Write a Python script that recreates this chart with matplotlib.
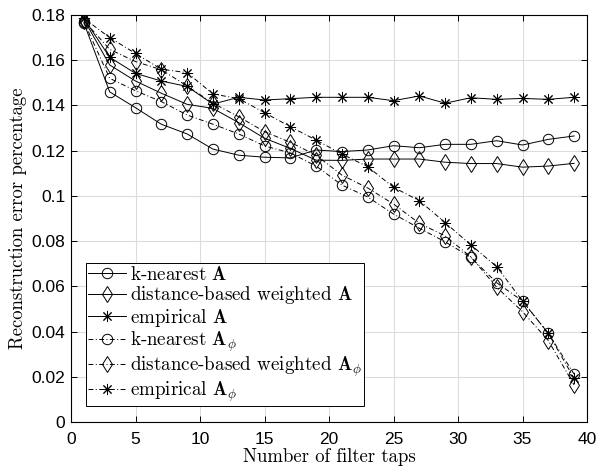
import matplotlib
matplotlib.use('Agg')
import matplotlib.pyplot as plt
from matplotlib.ticker import FuncFormatter

# ---- data ----
taps = [1, 3, 5, 7, 9, 11, 13, 15, 17, 19, 21, 23, 25, 27, 29, 31, 33, 35, 37, 39]
knn_A = [0.1765, 0.146, 0.139, 0.1317, 0.1274, 0.1207, 0.118, 0.1171, 0.1168, 0.1203,
         0.1196, 0.1203, 0.1222, 0.1213, 0.1228, 0.1228, 0.1244, 0.1225, 0.125, 0.1265]
dist_A = [0.178, 0.1579, 0.1508, 0.1454, 0.1405, 0.1387, 0.1324, 0.1255, 0.121, 0.1158,
          0.1157, 0.1163, 0.1163, 0.1163, 0.1149, 0.1143, 0.1143, 0.1127, 0.1132, 0.1144]
emp_A = [0.1785, 0.1613, 0.1542, 0.1508, 0.1484, 0.1406, 0.1436, 0.1424, 0.143, 0.1436,
         0.1436, 0.1436, 0.1421, 0.1442, 0.141, 0.1434, 0.1427, 0.1431, 0.1427, 0.1436]
knn_Aphi = [0.177, 0.152, 0.1465, 0.1417, 0.1358, 0.1317, 0.1274, 0.1221, 0.119, 0.1132,
            0.1048, 0.0995, 0.092, 0.0857, 0.0797, 0.0728, 0.0616, 0.0535, 0.0392, 0.0212]
dist_Aphi = [0.1775, 0.1648, 0.1594, 0.1558, 0.1486, 0.141, 0.135, 0.1284, 0.1237, 0.118,
             0.1092, 0.1035, 0.0964, 0.0879, 0.0823, 0.073, 0.0596, 0.0488, 0.036, 0.0164]
emp_Aphi = [0.1785, 0.170, 0.163, 0.156, 0.1545, 0.1451, 0.143, 0.1368, 0.1306, 0.1247,
            0.1185, 0.1129, 0.1038, 0.0979, 0.0882, 0.0783, 0.0687, 0.0535, 0.0392, 0.0193]

labels = [r'k-nearest $\mathbf{A}$',
          r'distance-based weighted $\mathbf{A}$',
          r'empirical $\mathbf{A}$',
          r'k-nearest $\mathbf{A}_\phi$',
          r'distance-based weighted $\mathbf{A}_\phi$',
          r'empirical $\mathbf{A}_\phi$']
x_ticks = [0, 5, 10, 15, 20, 25, 30, 35, 40]
y_ticks = [0, 0.02, 0.04, 0.06, 0.08, 0.1, 0.12, 0.14, 0.16, 0.18]

plt.rcParams['mathtext.fontset'] = 'cm'
serif = ['cmr10', 'DejaVu Serif']
sans = 'Liberation Sans'

W, H = 598, 468
fig = plt.figure(figsize=(W / 100, H / 100), dpi=100)
L, R, T, B = 71, 587, 15, 422
ax = fig.add_axes([L / W, 1 - B / H, (R - L) / W, (B - T) / H])

series = [knn_A, dist_A, emp_A, knn_Aphi, dist_Aphi, emp_Aphi]
markers = ['o', 'd', (8, 2, 0), 'o', 'd', (8, 2, 0)]
msizes = [7.5, 8, 8, 7.5, 8, 8]
dashdot = (0, (5, 2.5, 1, 2.5))
styles = ['-', '-', '-', dashdot, dashdot, dashdot]

for ys, m, ms, ls, lab in zip(series, markers, msizes, styles, labels):
    ax.plot(taps, ys, color='black', linestyle=ls, linewidth=0.7,
            marker=m, markersize=ms, markerfacecolor='none',
            markeredgecolor='black', markeredgewidth=0.7, label=lab)

ax.set_xlim(0, 40)
ax.set_ylim(0, 0.18)
ax.set_xticks(x_ticks)
ax.set_yticks(y_ticks)
ax.yaxis.set_major_formatter(FuncFormatter(lambda v, p: '%g' % round(v, 4)))
ax.grid(True, color='#dcdcdc', linewidth=0.8)
ax.set_axisbelow(True)
ax.tick_params(direction='in', top=True, right=True, length=4, width=0.7,
               labelsize=12.5, pad=4)
ax.tick_params(axis='x', pad=7)
for lbl in ax.get_xticklabels() + ax.get_yticklabels():
    lbl.set_family(sans)
for s in ax.spines.values():
    s.set_linewidth(0.8)

ax.set_xlabel('Number of filter taps', family=serif, fontsize=13.5, labelpad=1)
ax.set_ylabel('Reconstruction error percentage', family=serif, fontsize=13.5, labelpad=3)

leg = ax.legend(loc='lower left', bbox_to_anchor=(0.029, 0.039), borderaxespad=0,
                prop={'family': serif, 'size': 13.7}, fancybox=False, framealpha=1,
                edgecolor='black', handlelength=2.0, handletextpad=0.2,
                labelspacing=0.03, borderpad=0.12)
leg.get_frame().set_linewidth(0.7)

fig.savefig('out.png', dpi=100)
